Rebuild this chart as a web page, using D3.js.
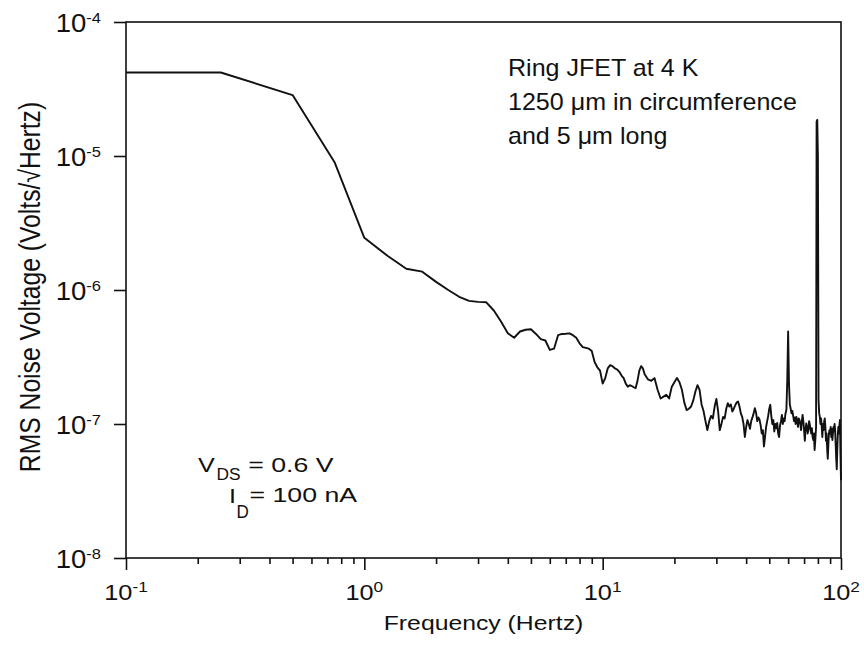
<!DOCTYPE html>
<html><head><meta charset="utf-8">
<script src="https://cdn.jsdelivr.net/npm/d3@7"></script>
<style>html,body{margin:0;padding:0;background:#fff;} svg{display:block;}</style>
</head><body>
<svg id="chart" width="864" height="647"></svg>
<script>
// ---- data ----
const freqHz = [
  0.1, 0.25, 0.5, 0.75, 1.0, 1.25, 1.5, 1.75, 2.0, 2.25, 2.5, 2.75, 3.0, 3.25, 3.5, 3.75,
  4.0, 4.25, 4.5, 4.75, 5.0, 5.25, 5.5, 5.75, 6.0, 6.25, 6.5, 6.75, 7.0, 7.25, 7.5, 7.75,
  8.0, 8.25, 8.5, 8.75, 9.0, 9.25, 9.5, 9.75, 10.0, 10.25, 10.5, 10.75, 11.0, 11.25, 11.5, 11.75,
  12.0, 12.25, 12.5, 12.75, 13.0, 13.25, 13.5, 13.75, 14.0, 14.25, 14.5, 14.75, 15.0, 15.5,
  16.0, 16.5, 17.0, 17.5, 18.0, 18.5, 19.0, 19.5, 20.0, 20.5, 21.0, 21.5, 22.0, 22.5,
  23.0, 23.5, 24.0, 24.5, 25.0, 25.5, 26.0, 26.5, 27.0, 27.5, 28.0, 28.5, 29.0, 29.5,
  30.0, 30.5, 31.0, 31.5, 32.0, 32.5, 33.0, 33.5, 34.0, 34.5, 35.0, 35.5, 36.0, 36.5,
  37.0, 37.5, 38.0, 38.5, 39.0, 39.5, 40.0, 40.5, 41.0, 41.5, 42.0, 42.5, 43.0, 43.5,
  44.0, 44.5, 45.0, 45.5, 46.0, 46.5, 47.0, 47.5, 48.0, 48.5, 49.0, 49.5, 50.0, 50.5,
  51.0, 51.5, 52.0, 52.5, 53.0, 53.5, 54.0, 54.5, 55.0, 55.5, 56.0, 56.5, 57.0, 57.5,
  58.0, 58.5, 59.0, 59.5, 60.0, 60.5, 61.0, 61.5, 62.0, 62.5, 63.0, 63.5, 64.0, 64.5,
  65.0, 65.5, 66.0, 66.5, 67.0, 67.5, 68.0, 68.5, 69.0, 69.5, 70.0, 70.5, 71.0, 71.5,
  72.0, 72.5, 73.0, 73.5, 74.0, 74.5, 75.0, 75.5, 76.0, 76.5, 77.0, 77.5, 78.0, 78.6,
  79.0, 79.5, 80.0, 80.5, 81.0, 81.5, 82.0, 82.5, 83.0, 83.5, 84.0, 84.5, 85.0, 85.5,
  86.0, 86.5, 87.0, 87.5, 88.0, 88.5, 89.0, 89.5, 90.0, 90.5, 91.0, 91.5, 92.0, 92.5,
  93.0, 93.5, 94.0, 94.5, 95.0, 95.5, 96.0, 96.5, 97.0, 97.5, 98.0, 98.5, 99.0, 99.5, 100.0
];
const noiseV = [
  4.2e-5, 4.2e-5, 2.85e-5, 9.0e-6, 2.45e-6, 1.8e-6, 1.44e-6, 1.37e-6, 1.15e-6, 1.0e-6, 8.9e-7, 8.3e-7, 8.15e-7, 8.1e-7, 7.0e-7, 5.8e-7,
  4.75e-7, 4.4e-7, 4.9e-7, 5.05e-7, 5.1e-7, 4.7e-7, 4.3e-7, 4.2e-7, 3.57e-7, 3.65e-7, 4.6e-7, 4.7e-7, 4.72e-7, 4.75e-7, 4.6e-7, 4.4e-7,
  4.0e-7, 3.75e-7, 3.7e-7, 3.65e-7, 3.5e-7, 2.9e-7, 2.65e-7, 2.5e-7, 2.0e-7, 2.2e-7, 2.6e-7, 2.75e-7, 2.7e-7, 2.6e-7, 2.55e-7, 2.45e-7,
  2.3e-7, 2.2e-7, 2.0e-7, 1.9e-7, 1.95e-7, 1.92e-7, 1.88e-7, 1.85e-7, 2.1e-7, 2.5e-7, 2.7e-7, 2.6e-7, 2.35e-7, 2.15e-7,
  2.1e-7, 2.2e-7, 1.8e-7, 1.55e-7, 1.6e-7, 1.65e-7, 1.55e-7, 1.9e-7, 2.05e-7, 2.2e-7, 2.05e-7, 1.8e-7, 1.45e-7, 1.27e-7,
  1.3e-7, 1.35e-7, 1.5e-7, 1.75e-7, 1.95e-7, 1.8e-7, 1.4e-7, 1.25e-7, 1.05e-7, 9.0e-8, 1.05e-7, 1.15e-7, 1.1e-7, 1.35e-7,
  1.54e-7, 1.25e-7, 9.0e-8, 1.0e-7, 1.13e-7, 1.1e-7, 1.3e-7, 1.43e-7, 1.35e-7, 1.4e-7, 1.24e-7, 1.3e-7, 1.38e-7, 1.45e-7,
  1.47e-7, 1.35e-7, 1.2e-7, 1.13e-7, 1.0e-7, 8.0e-8, 9.5e-8, 1.07e-7, 1.0e-7, 9.2e-8, 1.05e-7, 1.12e-7, 1.2e-7, 1.31e-7,
  1.22e-7, 1.05e-7, 1.12e-7, 1.08e-7, 9.8e-8, 8.5e-8, 9.0e-8, 6.8e-8, 8.0e-8, 9.5e-8, 1.05e-7, 1.15e-7, 1.3e-7, 1.39e-7,
  1.15e-7, 1.0e-7, 1.07e-7, 8.8e-8, 1.0e-7, 9.3e-8, 1.02e-7, 8.5e-8, 8.0e-8, 9.8e-8, 1.05e-7, 1.17e-7, 1.0e-7, 1.1e-7,
  1.05e-7, 1.2e-7, 1.27e-7, 2.1e-7, 4.9e-7, 2.0e-7, 1.4e-7, 1.3e-7, 1.2e-7, 1.25e-7, 1.15e-7, 1.05e-7, 1.12e-7, 1.0e-7,
  1.13e-7, 1.05e-7, 9.5e-8, 1.1e-7, 1.07e-7, 1.0e-7, 9.0e-8, 1.05e-7, 1.17e-7, 1.05e-7, 9.0e-8, 7.5e-8, 9.0e-8, 1.01e-7,
  9.5e-8, 8.5e-8, 9.2e-8, 1.05e-7, 9.9e-8, 9.0e-8, 8.5e-8, 9.3e-8, 8.0e-8, 7.6e-8, 8.5e-8, 6.4e-8, 7.5e-8, 9.5e-8,
  1.8e-5, 1.86e-5, 1.0e-5, 1.51e-7, 1.2e-7, 1.13e-7, 1.0e-7, 1.1e-7, 9.5e-8, 8.0e-8, 1.0e-7, 9.0e-8, 1.05e-7, 1.1e-7,
  9.5e-8, 7.5e-8, 8.5e-8, 6.5e-8, 5.5e-8, 7.0e-8, 8.5e-8, 9.0e-8, 8.5e-8, 9.5e-8, 8.0e-8, 9.2e-8, 7.6e-8, 8.5e-8,
  9.5e-8, 8.8e-8, 1.0e-7, 9.0e-8, 7.0e-8, 5.5e-8, 4.6e-8, 6.5e-8, 8.5e-8, 9.5e-8, 8.5e-8, 9.8e-8, 1.07e-7, 6.0e-8, 3.8e-8
];
const xTickExponents = [-1, 0, 1, 2];
const yTickExponents = [-8, -7, -6, -5, -4];
const xTitle = "Frequency (Hertz)";
const yTitle = "RMS Noise Voltage (Volts/\u221AHertz)";
const noteLines = ["Ring JFET at 4 K", "1250 \u03BCm in circumference", "and 5 \u03BCm long"];

// ---- layout ----
const W = 864, H = 647;
const plot = {left: 126, right: 841, top: 22, bottom: 558};
const ink = "#111";
const font = "'Liberation Sans', Arial, Helvetica, sans-serif";

const svg = d3.select("#chart");
const x = d3.scaleLog().domain([0.1, 100]).range([plot.left, plot.right]);
const y = d3.scaleLog().domain([1e-8, 1e-4]).range([plot.bottom, plot.top]);

// stretched text helper
function stext(parent, tx, ty, sx, size, anchor) {
  const g = parent.append("g").attr("transform", `translate(${tx},${ty}) scale(${sx},1)`);
  return g.append("text").attr("x", 0).attr("y", 0)
    .attr("font-family", font).attr("font-size", size).attr("fill", ink)
    .attr("text-anchor", anchor || "start");
}

// x axis ticks (outward)
const xAxis = d3.axisBottom(x).tickValues(xTickExponents.map(e => Math.pow(10, e)))
  .tickSize(12).tickFormat("");
const gx = svg.append("g").attr("transform", `translate(0,${plot.bottom})`).call(xAxis);
const minorX = [];
for (let e = -1; e < 2; e++) for (let m = 2; m <= 9; m++) minorX.push(m * Math.pow(10, e));
const xMinor = d3.axisBottom(x).tickValues(minorX).tickSize(6).tickFormat("");
const gxm = svg.append("g").attr("transform", `translate(0,${plot.bottom})`).call(xMinor);
[gx, gxm].forEach(g => {
  g.select(".domain").remove();
  g.selectAll(".tick line").attr("stroke", ink).attr("stroke-width", 1.6);
});

// y axis ticks (outward)
const yAxis = d3.axisLeft(y).tickValues(yTickExponents.map(e => Math.pow(10, e)))
  .tickSize(12).tickFormat("");
const gy = svg.append("g").attr("transform", `translate(${plot.left},0)`).call(yAxis);
gy.select(".domain").remove();
gy.selectAll(".tick line").attr("stroke", ink).attr("stroke-width", 1.6);

// frame
svg.append("rect").attr("x", plot.left).attr("y", plot.top)
  .attr("width", plot.right - plot.left).attr("height", plot.bottom - plot.top)
  .attr("fill", "none").attr("stroke", ink).attr("stroke-width", 1.6);

// x tick labels
xTickExponents.forEach(e => {
  const t = stext(svg, x(Math.pow(10, e)), 599.5, 1.15, 22, "middle");
  t.append("tspan").text("10");
  t.append("tspan").attr("font-size", 15).attr("dy", -7.5).text(String(e));
});
// y tick labels
yTickExponents.forEach(e => {
  const t = stext(svg, 101, y(Math.pow(10, e)) + 9.5, 1.1, 25, "end");
  t.append("tspan").text("10");
  t.append("tspan").attr("font-size", 15).attr("dy", -9).text(String(e));
});

// axis titles
stext(svg, (plot.left + plot.right) / 2, 630, 1.18, 21, "middle").text(xTitle);
svg.append("g").attr("transform", `translate(39.5,${287}) rotate(-90) scale(1,1.17)`)
  .append("text").attr("font-family", font).attr("font-size", 24.7).attr("fill", ink)
  .attr("text-anchor", "middle").text(yTitle);

// annotations
const noteY = [76, 110, 143.5];
noteLines.forEach((s, i) => stext(svg, 508, noteY[i], 1.09, 23, "start").text(s));

stext(svg, 198, 471.7, 1.2, 21).text("V");
stext(svg, 216.5, 479.5, 1.05, 16.5).text("DS");
stext(svg, 248.3, 471.7, 1.27, 21).text("= 0.6 V");
stext(svg, 229, 502.5, 1.2, 21).text("I");
stext(svg, 236.5, 517.5, 0.95, 18).text("D");
stext(svg, 249.5, 502, 1.27, 21).text("= 100 nA");

// data line
const data = freqHz.map((f, i) => ({f, v: noiseV[i]}));
const line = d3.line().x(d => x(d.f)).y(d => y(d.v));
svg.append("path").datum(data).attr("d", line)
  .attr("fill", "none").attr("stroke", ink).attr("stroke-width", 1.9)
  .attr("stroke-linejoin", "round");
</script>
</body></html>
